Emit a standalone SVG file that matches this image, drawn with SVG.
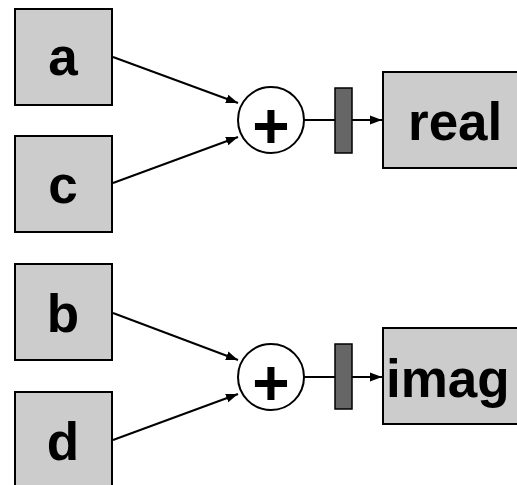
<svg xmlns="http://www.w3.org/2000/svg" width="517" height="485" viewBox="0 0 517 485">
  <style>
    .box { fill: #cccccc; stroke: #000000; stroke-width: 2; }
    .reg { fill: #666666; stroke: #000000; stroke-width: 1.5; }
    .sum { fill: #ffffff; stroke: #000000; stroke-width: 2; }
    .lbl { font-family: "Liberation Sans", Arial, sans-serif; font-weight: bold; font-size: 53px; fill: #000000; }
    .plus { font-family: "Liberation Sans", Arial, sans-serif; font-weight: bold; font-size: 64px; fill: #000000; text-anchor: middle; }
    .wire { fill: none; stroke: #000000; stroke-width: 2; }
  </style>
  <defs>
    <marker id="arr" markerUnits="userSpaceOnUse" markerWidth="13" markerHeight="11" refX="12" refY="5.5" orient="auto">
      <path d="M0,1 L12,5.5 L0,10 Z" fill="#000000"/>
    </marker>
  </defs>
  <rect width="517" height="485" fill="#ffffff"/>

  <g id="connectors">
    <path class="wire" d="M113,57 L238,103" marker-end="url(#arr)"/>
    <path class="wire" d="M113,183 L238,137" marker-end="url(#arr)"/>
    <path class="wire" d="M304,120 L382,120" marker-end="url(#arr)"/>
    <path class="wire" d="M113,313 L238,360" marker-end="url(#arr)"/>
    <path class="wire" d="M113,440 L238,394" marker-end="url(#arr)"/>
    <path class="wire" d="M304,377 L382,377" marker-end="url(#arr)"/>
  </g>

  <g id="node-a">
    <rect class="box" x="15" y="9" width="97" height="96"/>
    <text class="lbl" x="63" y="75" text-anchor="middle">a</text>
  </g>
  <g id="node-c">
    <rect class="box" x="15" y="136" width="97" height="96"/>
    <text class="lbl" x="63" y="203" text-anchor="middle">c</text>
  </g>
  <g id="node-b">
    <rect class="box" x="15" y="264" width="97" height="96"/>
    <text class="lbl" x="63" y="332" text-anchor="middle">b</text>
  </g>
  <g id="node-d">
    <rect class="box" x="15" y="392" width="97" height="110"/>
    <text class="lbl" x="63" y="460" text-anchor="middle">d</text>
  </g>

  <g id="sum-top">
    <circle class="sum" cx="271" cy="120" r="33"/>
    <text class="plus" x="271" y="148">+</text>
  </g>
  <g id="sum-bottom">
    <circle class="sum" cx="271" cy="377" r="33"/>
    <text class="plus" x="271" y="405">+</text>
  </g>

  <g id="reg-top">
    <rect class="reg" x="335" y="88" width="17" height="65"/>
  </g>
  <g id="reg-bottom">
    <rect class="reg" x="335" y="344" width="17" height="65"/>
  </g>

  <g id="node-real">
    <rect class="box" x="383" y="72" width="200" height="96"/>
    <text class="lbl" x="408" y="140">real</text>
  </g>
  <g id="node-imag">
    <rect class="box" x="383" y="328" width="200" height="96"/>
    <text class="lbl" x="386" y="397">imag</text>
  </g>
</svg>
